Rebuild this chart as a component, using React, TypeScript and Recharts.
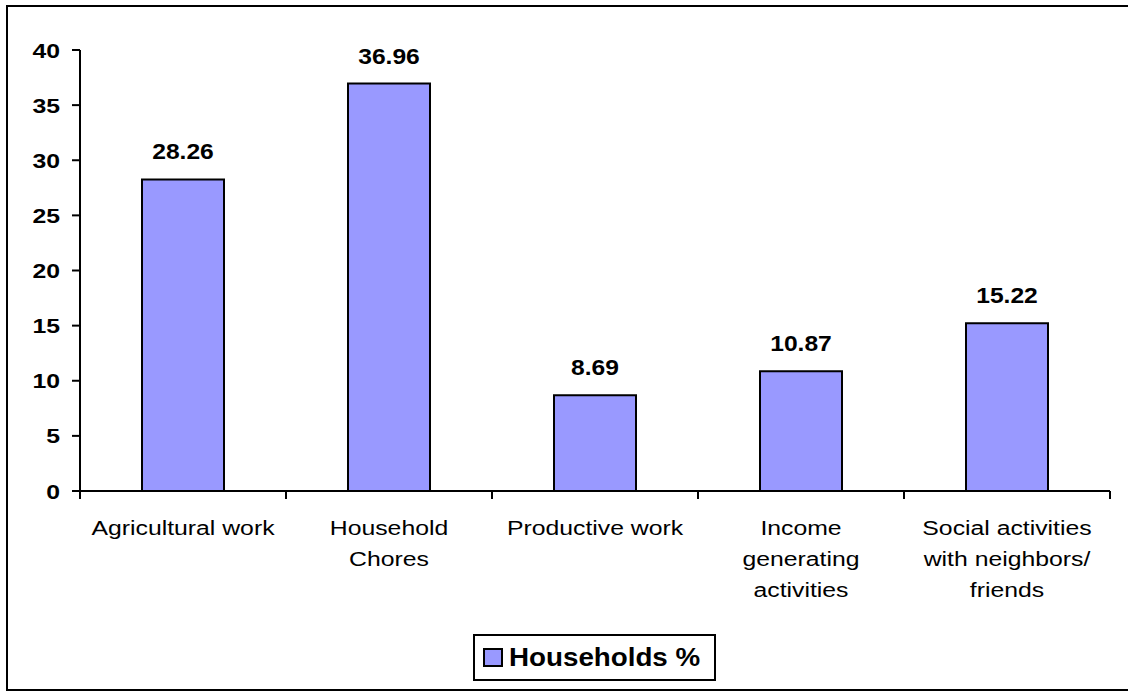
import React from 'react';
import { BarChart, Bar, XAxis, YAxis, Legend, LabelList } from 'recharts';

const categories = [
  'Agricultural work',
  'Household Chores',
  'Productive work',
  'Income generating activities',
  'Social activities with neighbors/ friends',
];
const categoryLabelLines = [
  ['Agricultural work'],
  ['Household', 'Chores'],
  ['Productive work'],
  ['Income', 'generating', 'activities'],
  ['Social activities', 'with neighbors/', 'friends'],
];
const householdsPct = [28.26, 36.96, 8.69, 10.87, 15.22];
const yTicks = [0, 5, 10, 15, 20, 25, 30, 35, 40];
const seriesName = 'Households %';

const data = categories.map((c, i) => ({ category: c, value: householdsPct[i], idx: i }));

const FONT = '"Liberation Sans", Arial, sans-serif';
const BAR_FILL = '#9999FF';

const YTick = (props: any) => {
  const { x, y, payload } = props;
  return (
    <text
      transform={`translate(${x},${y + 7.5}) scale(1.18,1)`}
      textAnchor="end"
      fontFamily={FONT}
      fontWeight="bold"
      fontSize={21}
      fill="#000"
    >
      {payload.value}
    </text>
  );
};

const XTick = (props: any) => {
  const { x, y, index, visibleTicksCount, width } = props;
  const count = visibleTicksCount || categories.length;
  const bw = (typeof width === 'number' ? width : 1030) / count;
  const lines = categoryLabelLines[index] || [];
  return (
    <g>
      <line x1={x - bw / 2} y1={y} x2={x - bw / 2} y2={y + 8} stroke="#000" strokeWidth={2} />
      {index === count - 1 && (
        <line x1={x + bw / 2} y1={y} x2={x + bw / 2} y2={y + 8} stroke="#000" strokeWidth={2} />
      )}
      {lines.map((ln, i) => (
        <text
          key={i}
          transform={`translate(${x},${y + 43.5 + i * 31}) scale(1.18,1)`}
          textAnchor="middle"
          fontFamily={FONT}
          fontSize={21}
          fill="#000"
        >
          {ln}
        </text>
      ))}
    </g>
  );
};

const ValueLabel = (props: any) => {
  const { x, y, width, value } = props;
  return (
    <text
      transform={`translate(${x + width / 2},${y - 20}) scale(1.12,1)`}
      textAnchor="middle"
      fontFamily={FONT}
      fontWeight="bold"
      fontSize={22}
      fill="#000"
    >
      {Number(value).toFixed(2)}
    </text>
  );
};

const LegendBox = () => (
  <div
    style={{
      width: 243,
      height: 47,
      border: '2px solid #000',
      boxSizing: 'border-box',
      background: '#fff',
      display: 'flex',
      alignItems: 'center',
      fontFamily: FONT,
    }}
  >
    <div
      style={{
        width: 20,
        height: 19,
        marginLeft: 8,
        boxSizing: 'border-box',
        border: '2px solid #000',
        background: BAR_FILL,
        flex: 'none',
      }}
    />
    <div
      style={{
        marginLeft: 6,
        fontWeight: 'bold',
        fontSize: 25,
        lineHeight: '25px',
        transform: 'scale(1.11,1)',
        transformOrigin: 'left center',
        whiteSpace: 'nowrap',
        color: '#000',
      }}
    >
      {seriesName}
    </div>
  </div>
);

export default function App() {
  return (
    <div style={{ position: 'absolute', left: 0, top: 0, width: 1128, height: 692, background: '#fff', overflow: 'hidden' }}>
      <div
        style={{
          position: 'absolute',
          left: 6,
          top: 5,
          width: 1140,
          height: 686,
          border: '2px solid #000',
          boxSizing: 'border-box',
        }}
      />
      <div style={{ position: 'absolute', left: 0, top: 0 }}>
        <BarChart
          width={1128}
          height={692}
          data={data}
          margin={{ top: 50, right: 18, bottom: 0, left: 0 }}
          barSize={82}
        >
          <YAxis
            type="number"
            domain={[0, 40]}
            ticks={yTicks}
            width={80}
            axisLine={{ stroke: '#000', strokeWidth: 2 }}
            tickLine={{ stroke: '#000', strokeWidth: 2 }}
            tickSize={8}
            tickMargin={12}
            tick={<YTick />}
            interval={0}
          />
          <XAxis
            dataKey="category"
            height={201}
            axisLine={{ stroke: '#000', strokeWidth: 2 }}
            tickLine={false}
            tickSize={0}
            tickMargin={0}
            tick={<XTick />}
            interval={0}
          />
          <Legend
            layout="horizontal"
            verticalAlign="middle"
            align="center"
            wrapperStyle={{ left: 473, top: 634, width: 243, height: 47 }}
            content={<LegendBox />}
          />
          <Bar
            dataKey="value"
            name={seriesName}
            fill={BAR_FILL}
            stroke="#000"
            strokeWidth={2}
            isAnimationActive={false}
          >
            <LabelList dataKey="value" content={<ValueLabel />} />
          </Bar>
        </BarChart>
      </div>
    </div>
  );
}
